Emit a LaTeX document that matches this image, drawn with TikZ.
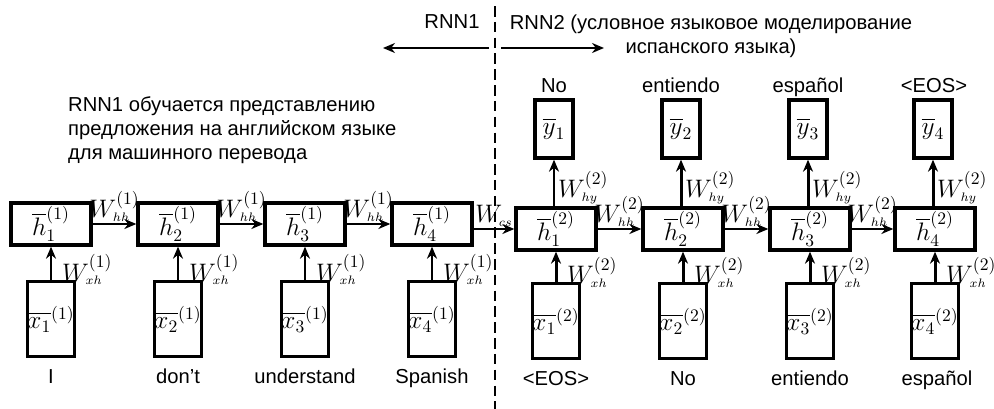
\documentclass[tikz,border=0pt]{standalone}
\usepackage{amsmath}
\usepackage{fontspec}
\setmainfont{Liberation Sans}
\usetikzlibrary{arrows.meta,positioning}

\newcommand{\wlab}[2]{$W^{(#1)}_{\scriptscriptstyle #2}$}

\begin{document}
\begin{tikzpicture}[
  x=0.02cm, y=-0.02cm,
  font=\fontsize{11.5}{13.8}\selectfont,
  hid/.style={draw, line width=1.9pt, minimum width=1.6cm, minimum height=0.84cm, inner sep=0pt, font=\Large},
  inp/.style={draw, line width=1.9pt, minimum width=0.84cm, minimum height=1.5cm, inner sep=0pt, font=\Large},
  outp/.style={draw, line width=1.9pt, minimum width=0.76cm, minimum height=1.16cm, inner sep=0pt, font=\Large},
  conn/.style={-{Stealth[length=2.4mm, width=2mm]}, line width=1.7pt},
  wt/.style={font=\Large, inner sep=0.5pt},
  word/.style={text height=8.3pt, text depth=2.4pt, inner sep=0pt},
  sep/.style={dash pattern=on 6pt off 3pt, line width=0.9pt}]
\useasboundingbox (0,0) rectangle (994,409);
% RNN1: encoder
\node[hid] (h11) at (51,224) {$\overline{h}_1^{(1)}$};
\node[hid] (h12) at (178,224) {$\overline{h}_2^{(1)}$};
\node[hid] (h13) at (305,224) {$\overline{h}_3^{(1)}$};
\node[hid] (h14) at (432,224) {$\overline{h}_4^{(1)}$};
\node[inp] (x11) at (51,319) {$\overline{x_1}^{(1)}$};
\node[inp] (x12) at (178,319) {$\overline{x_2}^{(1)}$};
\node[inp] (x13) at (305,319) {$\overline{x_3}^{(1)}$};
\node[inp] (x14) at (432,319) {$\overline{x_4}^{(1)}$};
\node[word] (w11) at (51,378) {I};
\node[word] (w12) at (178,378) {don't};
\node[word] (w13) at (305,378) {understand};
\node[word] (w14) at (432,378) {Spanish};
% RNN2: decoder
\node[hid] (h21) at (556,229) {$\overline{h}_1^{(2)}$};
\node[hid] (h22) at (683,229) {$\overline{h}_2^{(2)}$};
\node[hid] (h23) at (810,229) {$\overline{h}_3^{(2)}$};
\node[hid] (h24) at (935,229) {$\overline{h}_4^{(2)}$};
\node[inp] (x21) at (556,321) {$\overline{x_1}^{(2)}$};
\node[inp] (x22) at (683,321) {$\overline{x_2}^{(2)}$};
\node[inp] (x23) at (810,321) {$\overline{x_3}^{(2)}$};
\node[inp] (x24) at (935,321) {$\overline{x_4}^{(2)}$};
\node[outp] (y1) at (554,129) {$\overline{y}_1$};
\node[outp] (y2) at (681,129) {$\overline{y}_2$};
\node[outp] (y3) at (808,129) {$\overline{y}_3$};
\node[outp] (y4) at (933,129) {$\overline{y}_4$};
\node[word] (w21) at (556,380) {<EOS>};
\node[word] (w22) at (683,380) {No};
\node[word] (w23) at (810,380) {entiendo};
\node[word] (w24) at (937,380) {español};
\node[word] (o1) at (554,87) {No};
\node[word] (o2) at (681,87) {entiendo};
\node[word] (o3) at (808,87) {español};
\node[word] (o4) at (934,87) {<EOS>};
% headers and split line
\coordinate (stop) at (495,6);
\coordinate (sbot) at (495,409);
\draw[sep] (stop) -- (sbot);
\node[word] (r1) at (452,23) {RNN1};
\node[align=center] (r2) at (711,36) {RNN2 (условное языковое моделирование\\испанского языка)};
\coordinate (a1s) at (489,48);
\coordinate (a1e) at (383,48);
\coordinate (a2s) at (501,48);
\coordinate (a2e) at (604,48);
\draw[conn] (a1s) -- (a1e);
\draw[conn] (a2s) -- (a2e);
\node[align=left, anchor=north west] (desc) at (62,90) {RNN1 обучается представлению\\предложения на английском языке\\для машинного перевода};
% recurrent links
\draw[conn] (h11) -- node[wt, above]{\wlab{1}{hh}} (h12);
\draw[conn] (h12) -- node[wt, above]{\wlab{1}{hh}} (h13);
\draw[conn] (h13) -- node[wt, above]{\wlab{1}{hh}} (h14);
\draw[conn] (h14.east |- h21) -- node[wt, above]{$W_{\scriptscriptstyle cs}$} (h21);
\draw[conn] (h21) -- node[wt, above]{\wlab{2}{hh}} (h22);
\draw[conn] (h22) -- node[wt, above]{\wlab{2}{hh}} (h23);
\draw[conn] (h23) -- node[wt, above]{\wlab{2}{hh}} (h24);
% inputs
\draw[conn] (x11) -- node[wt, right, pos=0.3, xshift=5pt]{\wlab{1}{xh}} (h11);
\draw[conn] (x12) -- node[wt, right, pos=0.3, xshift=5pt]{\wlab{1}{xh}} (h12);
\draw[conn] (x13) -- node[wt, right, pos=0.3, xshift=5pt]{\wlab{1}{xh}} (h13);
\draw[conn] (x14) -- node[wt, right, pos=0.3, xshift=5pt]{\wlab{1}{xh}} (h14);
\draw[conn] (x21) -- node[wt, right, pos=0.3, xshift=5pt]{\wlab{2}{xh}} (h21);
\draw[conn] (x22) -- node[wt, right, pos=0.3, xshift=5pt]{\wlab{2}{xh}} (h22);
\draw[conn] (x23) -- node[wt, right, pos=0.3, xshift=5pt]{\wlab{2}{xh}} (h23);
\draw[conn] (x24) -- node[wt, right, pos=0.3, xshift=5pt]{\wlab{2}{xh}} (h24);
% outputs
\draw[conn] (h21.north -| y1) -- node[wt, right, pos=0.4, xshift=1pt]{\wlab{2}{hy}} (y1);
\draw[conn] (h22.north -| y2) -- node[wt, right, pos=0.4, xshift=1pt]{\wlab{2}{hy}} (y2);
\draw[conn] (h23.north -| y3) -- node[wt, right, pos=0.4, xshift=1pt]{\wlab{2}{hy}} (y3);
\draw[conn] (h24.north -| y4) -- node[wt, right, pos=0.4, xshift=1pt]{\wlab{2}{hy}} (y4);
\end{tikzpicture}
\end{document}
